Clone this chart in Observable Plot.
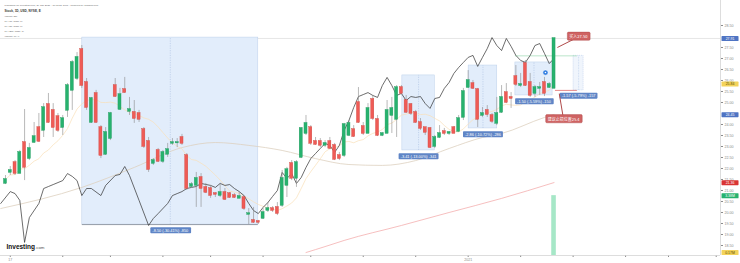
<!DOCTYPE html>
<html>
<head>
<meta charset="utf-8">
<script src="https://cdn.jsdelivr.net/npm/d3@7"></script>
<script src="https://cdn.jsdelivr.net/npm/@observablehq/plot@0.6"></script>
<style>
  html, body { margin: 0; padding: 0; background: #fff; }
  #chart { position: relative; width: 740px; height: 263px; overflow: hidden; }
  #chart svg { position: absolute; left: 0; top: 0; }
  #edge { position: absolute; left: 0; top: 262px; width: 740px; height: 1px; background: #d9d9d9; }
</style>
</head>
<body>
<div id="chart"><div id="edge"></div></div>
<script>
// ---- daily sessions (index 0 = first session on screen) ----
const open = [
  21.32, 21.82, 22.27, 21.77, 23.18, 22.45, 23.18, 23.86, 23.73, 24.91,
  24.64, 24.36, 23.86, 24.64, 25.55, 26.09, 27.41, 25.91, 24.09, 25.41,
  23.86, 22.64, 23.36, 25.77, 24.68, 25.59, 24.59, 24.55, 24.50, 23.77,
  23.23, 22.23, 22.82, 22.32, 22.64, 23.14, 23.16, 23.41, 22.59, 21.18,
  21.23, 21.59, 21.14, 21.09, 20.86, 20.77, 20.91, 20.86, 20.77, 20.64,
  20.68, 19.91, 19.64, 19.59, 19.73, 20.09, 20.18, 20.23, 20.32, 21.23,
  22.23, 21.55, 22.50, 23.59, 23.86, 23.23, 23.23, 23.05, 23.23, 23.05,
  22.59, 22.59, 23.50, 23.77, 25.00, 23.91, 23.59, 25.14, 24.23, 23.50,
  23.59, 24.41, 24.23, 25.68, 25.09, 24.91, 24.55, 24.09, 23.86, 23.82,
  23.00, 23.41, 23.68, 23.59, 23.86, 23.68, 24.32, 25.68, 25.86, 25.59,
  24.41, 24.64, 24.41, 24.05, 24.55, 25.45, 25.23, 26.18, 25.77, 26.77,
  25.91, 25.41, 25.64, 25.91, 25.68, 25.64
];
const high = [
  21.68, 22.09, 22.36, 22.82, 24.68, 23.14, 24.09, 24.50, 24.95, 25.41,
  24.95, 24.50, 24.41, 25.86, 26.91, 27.27, 27.59, 26.09, 25.23, 25.55,
  23.95, 23.86, 24.55, 26.09, 25.64, 26.14, 25.23, 25.09, 24.64, 23.86,
  23.41, 22.45, 22.91, 22.82, 23.14, 23.36, 23.36, 23.55, 22.68, 21.36,
  21.82, 21.77, 21.32, 21.23, 20.91, 21.32, 21.09, 20.91, 20.86, 20.91,
  20.77, 20.18, 20.23, 19.64, 20.18, 20.45, 20.27, 20.45, 21.91, 22.05,
  22.36, 22.36, 23.86, 24.41, 23.95, 23.41, 23.36, 23.27, 23.41, 23.14,
  22.73, 24.05, 24.18, 23.95, 25.68, 24.09, 24.95, 25.32, 24.41, 23.64,
  25.09, 25.23, 25.77, 25.77, 25.32, 24.95, 24.64, 24.27, 23.86, 23.86,
  23.50, 23.95, 23.82, 23.68, 23.91, 24.41, 25.64, 26.45, 26.00, 25.64,
  24.77, 24.86, 24.50, 25.23, 25.77, 25.86, 25.45, 26.68, 26.32, 26.91,
  26.32, 25.77, 25.91, 26.14, 25.91, 27.91
];
const low = [
  21.27, 21.68, 21.68, 21.77, 21.45, 22.36, 23.14, 23.18, 23.41, 24.05,
  23.41, 23.64, 23.50, 24.32, 24.64, 26.00, 25.64, 24.64, 24.05, 24.05,
  22.45, 22.59, 23.27, 25.23, 24.64, 25.41, 24.41, 24.05, 24.09, 22.91,
  21.82, 22.14, 22.27, 22.23, 22.50, 23.05, 22.95, 23.05, 21.00, 21.09,
  20.23, 20.23, 20.86, 20.64, 20.68, 20.68, 20.55, 20.64, 20.64, 20.64,
  20.09, 19.45, 19.50, 19.45, 19.68, 20.00, 20.00, 19.86, 20.23, 20.68,
  21.45, 21.14, 22.45, 23.50, 23.05, 23.05, 22.95, 22.95, 22.86, 22.36,
  22.36, 22.50, 23.45, 23.41, 24.05, 23.50, 23.59, 24.18, 23.45, 23.45,
  23.59, 23.59, 23.41, 25.41, 24.50, 24.41, 24.05, 23.73, 23.50, 22.91,
  22.91, 23.36, 23.50, 23.50, 23.59, 23.64, 24.18, 25.64, 25.59, 23.86,
  24.32, 24.32, 24.05, 23.95, 24.50, 24.95, 24.73, 25.73, 25.68, 25.73,
  25.23, 25.23, 25.32, 25.27, 25.64, 25.64
];
const close = [
  21.50, 21.91, 21.77, 22.73, 22.05, 22.91, 23.45, 23.23, 24.77, 24.09,
  23.86, 23.73, 24.27, 25.77, 26.82, 27.05, 25.77, 24.77, 25.18, 24.09,
  22.59, 23.64, 24.50, 25.27, 25.36, 25.45, 24.68, 24.27, 24.23, 23.00,
  21.95, 22.36, 22.32, 22.73, 22.86, 23.18, 23.18, 23.14, 21.09, 21.27,
  21.55, 21.09, 20.91, 20.77, 20.82, 20.91, 20.59, 20.68, 20.68, 20.73,
  20.18, 19.95, 19.55, 19.55, 20.00, 20.18, 20.09, 19.95, 21.55, 21.95,
  21.55, 22.27, 23.82, 24.05, 23.14, 23.09, 23.05, 23.14, 22.91, 22.41,
  22.45, 24.00, 24.05, 23.45, 24.09, 23.59, 24.73, 24.27, 23.50, 23.59,
  24.64, 24.73, 25.68, 25.41, 24.55, 24.50, 24.09, 23.82, 23.64, 22.95,
  23.41, 23.59, 23.59, 23.64, 23.59, 24.27, 25.50, 26.00, 25.64, 24.23,
  24.50, 24.45, 24.14, 24.50, 25.23, 25.00, 25.18, 25.82, 25.82, 25.77,
  25.32, 25.68, 25.68, 25.41, 25.82, 27.91
];

// comparison symbol, drawn on the price scale
const compareIdx = [-1, 1, 2, 3, 4, 5, 7, 8, 9, 10, 12, 13, 14, 15, 16, 17, 18, 20, 21, 23, 24, 25, 26, 28, 30, 31, 32, 34, 35, 36, 37, 38, 39, 40, 41, 43, 44, 45, 46, 47, 48, 49, 50, 51, 52, 53, 54, 55, 56, 57, 58, 59, 60, 61, 62, 63, 64, 65, 66, 67, 68, 69, 70, 71, 72, 73, 74, 75, 76, 77, 78, 79, 80, 81, 82, 83, 84, 85, 86, 87, 88, 89, 90, 91, 92, 93, 94, 95, 96, 97, 98, 99, 100, 101, 102, 103, 104, 105, 106, 107, 108, 109, 110, 111, 112, 113, 114, 115];
const compareVal = [20.41, 20.95, 20.86, 20.55, 18.64, 19.77, 20.41, 21.09, 21.18, 21.27, 21.45, 21.77, 21.64, 21.45, 20.77, 21.09, 21.09, 20.77, 21.23, 21.68, 21.73, 22.09, 21.68, 20.55, 19.41, 19.73, 19.95, 20.41, 20.77, 20.86, 20.95, 21.09, 21.14, 21.18, 21.32, 21.23, 21.14, 21.32, 21.23, 21.27, 21.09, 20.95, 20.77, 20.41, 20.09, 19.95, 20.23, 20.45, 20.73, 21.00, 21.82, 21.55, 21.77, 21.32, 21.59, 22.05, 22.45, 22.68, 22.91, 23.14, 23.05, 22.73, 23.05, 23.73, 24.18, 24.77, 25.27, 25.36, 25.45, 25.32, 25.23, 25.77, 26.14, 25.77, 25.32, 25.41, 25.09, 25.27, 25.23, 25.27, 24.95, 24.73, 25.18, 25.23, 25.64, 25.91, 26.32, 26.59, 26.82, 27.05, 27.14, 26.64, 27.05, 27.45, 27.95, 27.59, 27.36, 27.91, 27.55, 27.14, 26.91, 26.82, 27.14, 27.59, 27.68, 27.23, 26.77, 27.00];

// moving averages with longer look-back
const ma50Idx = [-1, 16, 27, 37, 44, 51, 58, 65, 72, 79, 86, 93, 100, 104, 113, 115];
const ma50Val = [20.18, 21.14, 22.05, 22.95, 23.18, 23.05, 22.82, 22.45, 22.18, 22.14, 22.36, 22.91, 23.41, 23.59, 24.32, 24.45];
const ma200Idx = [63, 67, 71, 83, 93, 104, 115];
const ma200Val = [18.18, 18.45, 18.73, 19.41, 20.00, 20.64, 21.36];

// volume (millions)
const volumeIdx = [115];
const volumeVal = [3.38];
const volumeMA = 0.17;

// price-range drawings
const rangeStart = [16.1, 83.2, 97.1, 106.9];
const rangeEnd = [53.0, 90.0, 103.1, 114.7];
const rangeTop = [27.95, 26.23, 26.68, 26.82];
const rangeBottom = [19.45, 22.82, 23.82, 25.32];

// trade plan: target / stop
const planStart = 119.1, planEnd = 121.2;
const targetFrom = 106.9, stopFrom = 115.3, planLineEnd = 119.9;
const targetPrice = 27.12, stopPrice = 25.55;

// callouts
const calloutPrefix = ["买入", "建议止损位置"];
const calloutDigits = [2, 1];
const calloutTipIdx = [115.7, 116.1];
const calloutTipPrice = [27.50, 25.40];
const calloutIdx = [120.1, 117.0];
const calloutPrice = [27.98, 24.23];
const noteIdx = 113.2, notePrice = 26.36;

// axes
const yTicks = d3.range(18.5, 28.51, 0.5);
const xTickIdx = [1, 12, 22, 33, 43, 54, 64, 75, 86, 97, 108, 119, 130, 139, 149];
const xTickLabels = ["17", "", "", "", "", "", "", "", "", "2021", "", "", "", "", ""];

const headerLine1 = "Published on Investing.com, 29 Jan 2021 - 10:11:57 GMT - Powered by TradingView.";
const headerLine2 = "Stock, 1D, USD, NYSE, E";
const legendLines = ["Volume (20)", "MA (10, close, 0)", "MA (50, close, 0)", "MA (200, close, 0)", "Volume, MA 9"];

// ---- derived tables ----
const candles = close.map((c, i) => ({i, o: open[i], h: high[i], l: low[i], c}));
const up = d => d.c >= d.o;
const compare = compareIdx.map((i, k) => ({i, v: compareVal[k]}));
const ma50 = ma50Idx.map((i, k) => ({i, v: ma50Val[k]}));
const ma200 = ma200Idx.map((i, k) => ({i, v: ma200Val[k]}));
const volumes = volumeIdx.map((i, k) => ({i, v: volumeVal[k]}));
const rangeLabel = (top, bottom) => {
  const d = bottom - top;
  return `${d.toFixed(2)} (${(d / top * 100).toFixed(2)}%) ${Math.round(d * 100)}`;
};
const ranges = rangeStart.map((a, k) => ({
  a, b: rangeEnd[k], top: rangeTop[k], bottom: rangeBottom[k],
  label: rangeLabel(rangeTop[k], rangeBottom[k])
}));
const plan = [{a: planStart, b: planEnd, top: targetPrice, bottom: stopPrice, label: rangeLabel(targetPrice, stopPrice)}];
const callouts = calloutPrefix.map((p, k) => ({
  text: p + calloutTipPrice[k].toFixed(calloutDigits[k]),
  ti: calloutTipIdx[k], tp: calloutTipPrice[k], i: calloutIdx[k], p: calloutPrice[k]
}));
const xLabelOf = new Map(xTickIdx.map((d, k) => [d, xTickLabels[k]]));
const legendRows = legendLines.map((text, k) => ({text, k}));

const lastClose = close[close.length - 1];
const ma10Last = d3.mean(close.slice(-10));
const axisTags = [
  {v: lastClose, fill: "#4f74c3", color: "#fff"},
  {v: ma10Last, fill: "#f3d35b", color: "#5a4a00"},
  {v: ma50Val[ma50Val.length - 1], fill: "#4f74c3", color: "#fff"},
  {v: ma200Val[ma200Val.length - 1], fill: "#d93434", color: "#fff"}
];
// tick labels hidden behind a price tag are left out
const visibleTicks = yTicks.filter(t => axisTags.every(a => Math.abs(a.v - t) > 0.14));

const X0 = -1.048, X1 = 149.9;   // visible session range
const Y0 = 18.045, Y1 = 29.636;  // visible price range
const GREEN = "#27b26e", RED = "#ef5b56";
const SANS = "'Liberation Sans', Arial, sans-serif";
const CJK = "'Noto Sans CJK SC', sans-serif";
const tag = name => () => name;   // per-element aria-label, used to find texts afterwards

const main = Plot.plot({
  width: 740, height: 263,
  marginTop: 0, marginRight: 20, marginBottom: 8, marginLeft: 0,
  style: {fontSize: "3.6px", fontFamily: SANS, color: "#8a8a8a", background: "white"},
  x: {domain: [X0, X1], ticks: xTickIdx, tickFormat: d => xLabelOf.get(d) ?? "", tickSize: 2, tickPadding: 1, label: null},
  y: {domain: [Y0, Y1], axis: "right", ticks: visibleTicks, tickFormat: d3.format(".2f"), tickSize: 2, tickPadding: 2, label: null},
  marks: [
    Plot.ruleX([X1], {stroke: "#d4d4d4", strokeWidth: 0.8}),
    Plot.ruleY([Y0], {stroke: "#d4d4d4", strokeWidth: 0.8}),
    Plot.ruleY([lastClose], {stroke: "#dcdcdc", strokeWidth: 0.7}),

    // price-range boxes
    Plot.rect(ranges, {x1: "a", x2: "b", y1: "bottom", y2: "top", fill: "#e2edfb", stroke: "#bccfea", strokeWidth: 0.5}),
    Plot.ruleX(ranges, {x: d => (d.a + d.b) / 2, y1: "bottom", y2: "top", stroke: "#a3b9dd", strokeWidth: 0.5, strokeDasharray: "1.2,1.2"}),
    Plot.ruleY(ranges.slice(0, 1), {y: "bottom", x1: "a", x2: "b", stroke: "#5c6470", strokeWidth: 0.6}),

    // trade plan
    Plot.rect(plan, {x1: "a", x2: "b", y1: "bottom", y2: "top", fill: "#f0f5fc", stroke: "#a9c0e4", strokeWidth: 0.5, strokeDasharray: "1,1"}),
    Plot.ruleX(plan, {x: d => (d.a + d.b) / 2, y1: "bottom", y2: "top", stroke: "#a9c0e4", strokeWidth: 0.5, strokeDasharray: "0.8,0.8"}),
    Plot.ruleY([targetPrice], {x1: targetFrom, x2: planLineEnd, stroke: "#a9dfbd", strokeWidth: 0.8}),
    Plot.ruleY([stopPrice], {x1: stopFrom, x2: planLineEnd, stroke: "#e06a6a", strokeWidth: 0.8}),

    // moving averages
    Plot.line(ma200, {x: "i", y: "v", stroke: "#f2a3a3", strokeWidth: 0.7, curve: "monotone-x"}),
    Plot.line(ma50, {x: "i", y: "v", stroke: "#ddd0bf", strokeWidth: 0.8, curve: "monotone-x"}),
    Plot.lineY(candles, Plot.windowY({k: 10, anchor: "end", strict: false, reduce: "mean"}, {x: "i", y: "c", stroke: "#f9dfb8", strokeWidth: 0.7})),

    // comparison line
    Plot.line(compare, {x: "i", y: "v", stroke: "#2e2e2e", strokeWidth: 0.7}),

    // candles
    Plot.ruleX(candles, {x: "i", y1: "l", y2: "h", stroke: "#8a8a8a", strokeWidth: 0.6}),
    Plot.rect(candles, {
      x1: d => d.i - 0.32, x2: d => d.i + 0.32, y1: "o", y2: "c",
      fill: d => up(d) ? GREEN : RED, stroke: d => up(d) ? "#1f9a5d" : "#d0463f", strokeWidth: 0.4,
      insetTop: -0.4, insetBottom: -0.4
    }),

    // range labels
    Plot.text(ranges, {x: d => (d.a + d.b) / 2, y: "bottom", dy: 6, text: "label", fill: "white", fontSize: 3.9, fontFamily: SANS, ariaLabel: tag("range-label")}),
    Plot.text(plan, {x: d => (d.a + d.b) / 2, y: "bottom", dy: 5.5, text: "label", fill: "white", fontSize: 3.9, fontFamily: SANS, ariaLabel: tag("range-label")}),

    // callouts
    Plot.link(callouts, {x1: "ti", y1: "tp", x2: "i", y2: "p", stroke: "#b04a4a", strokeWidth: 1}),
    Plot.text(callouts, {x: "i", y: "p", text: "text", fill: "white", fontSize: 4, fontFamily: CJK, ariaLabel: tag("callout")}),
    Plot.dot([{i: noteIdx, p: notePrice}], {x: "i", y: "p", r: 2.6, fill: "#2f7de1", stroke: "white", strokeWidth: 0.5}),
    Plot.dot([{i: noteIdx, p: notePrice}], {x: "i", y: "p", r: 0.8, fill: "white"}),

    // price tags on the axis
    ...axisTags.map((t, k) => Plot.text([t], {x: () => X1, y: "v", dx: 9.5, text: d => d.v.toFixed(2), fill: t.color, fontSize: 3.5, fontFamily: SANS, ariaLabel: tag(`tag-${k}`)})),

    // header and legend
    Plot.text([headerLine1], {frameAnchor: "top-left", dx: 4, dy: 4, text: d => d, fontSize: 2.5, fill: "#666", textAnchor: "start", fontFamily: SANS}),
    Plot.text([headerLine2], {frameAnchor: "top-left", dx: 4, dy: 9.5, text: d => d, fontSize: 3.1, fontWeight: "bold", fill: "#333", textAnchor: "start", fontFamily: SANS}),
    Plot.text(legendRows, {frameAnchor: "top-left", dx: 4, text: "text", fontSize: 2.4, fill: "#555", textAnchor: "start", fontFamily: SANS, ariaLabel: tag("legend")}),

    // watermark
    Plot.text(["Investing"], {frameAnchor: "bottom-left", dx: 6, dy: -7, text: d => d, fontSize: 6.5, fontWeight: "bold", fill: "#111", textAnchor: "start", fontFamily: SANS}),
    Plot.text([".com"], {frameAnchor: "bottom-left", dx: 34.5, dy: -6.6, text: d => d, fontSize: 4.4, fill: "#555", textAnchor: "start", fontFamily: SANS})
  ]
});

const volumeTags = [
  {v: volumeVal[volumeVal.length - 1], fill: "#27b26e", color: "#fff"},
  {v: volumeMA, fill: "#f3d35b", color: "#5a4a00"}
];
const volume = Plot.plot({
  width: 740, height: 263,
  marginTop: 0, marginRight: 20, marginBottom: 8, marginLeft: 0,
  style: {background: "transparent", fontFamily: SANS},
  x: {domain: [X0, X1], axis: null},
  y: {domain: [0, 14.4], axis: null},
  marks: [
    Plot.rectY(volumes, {x1: d => d.i - 0.48, x2: d => d.i + 0.48, y: "v", fill: "#a6e7c7"}),
    ...volumeTags.map((t, k) => Plot.text([t], {x: () => X1, y: "v", dx: 9.5, text: d => d.v.toFixed(2) + "M", fill: t.color, fontSize: 3.5, fontFamily: SANS, ariaLabel: tag(`vtag-${k}`)}))
  ]
});

const host = document.getElementById("chart");
host.appendChild(main);
host.appendChild(volume);

// legend lines stacked under the header
main.querySelectorAll('text[aria-label="legend"]').forEach((t, k) => {
  const tr = t.getAttribute("transform") || "";
  t.setAttribute("transform", tr + ` translate(0,${15 + 5 * k})`);
});

// rounded plates behind label texts
function plate(svg, name, {fill, stroke = "none", strokeWidth = 0, padX = 1.4, padY = 0.5, rx = 0.8, width = null}) {
  svg.querySelectorAll(`text[aria-label="${name}"]`).forEach(t => {
    const b = t.getBBox();
    const w = width ?? b.width + 2 * padX;
    const r = document.createElementNS("http://www.w3.org/2000/svg", "rect");
    r.setAttribute("x", b.x + b.width / 2 - w / 2);
    r.setAttribute("y", b.y - padY);
    r.setAttribute("width", w);
    r.setAttribute("height", b.height + 2 * padY);
    r.setAttribute("rx", rx);
    r.setAttribute("fill", fill);
    r.setAttribute("stroke", stroke);
    r.setAttribute("stroke-width", strokeWidth);
    const tr = t.getAttribute("transform");
    if (tr) r.setAttribute("transform", tr);
    t.parentNode.insertBefore(r, t);
  });
}
plate(main, "range-label", {fill: "#5f85c6", padX: 2});
plate(main, "callout", {fill: "#cf6363", stroke: "#a84242", strokeWidth: 0.4, padX: 2, padY: 1.1, rx: 1.2});
axisTags.forEach((t, k) => plate(main, `tag-${k}`, {fill: t.fill, width: 17, rx: 0.6}));
volumeTags.forEach((t, k) => plate(volume, `vtag-${k}`, {fill: t.fill, width: 17, rx: 0.6}));
</script>
</body>
</html>
